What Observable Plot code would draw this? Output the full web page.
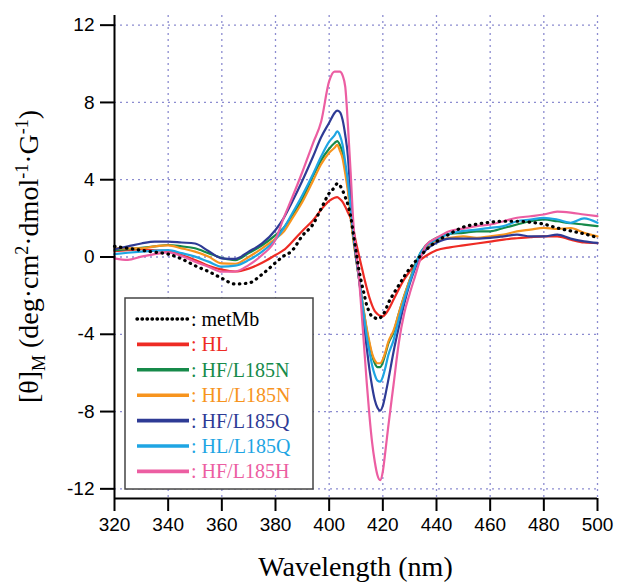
<!DOCTYPE html>
<html><head><meta charset="utf-8">
<script src="https://cdn.jsdelivr.net/npm/d3@7"></script>
<script src="https://cdn.jsdelivr.net/npm/@observablehq/plot@0.6"></script>
<style>body{margin:0;background:#fff} #chart{width:619px;height:582px}</style>
</head><body><div id="chart"></div>
<script>
const wavelengths = [320,325,330,335,340,345,350,355,360,365,370,375,380,383,386,390,394,397,400,402,403,404,405,406,407,408,409,410,411,412,413,414,415,416,417,418,419,420,421,422,424,426,428,430,432,434,436,440,445,450,455,460,465,470,475,480,485,490,495,500];
const metMb = [0.55,0.45,0.35,0.25,0.15,-0.1,-0.45,-0.75,-1.1,-1.4,-1.35,-0.9,-0.3,0.05,0.3,1.1,1.7,2.5,3.3,3.6,3.8,3.7,3.45,3.1,2.7,2.1,1.2,0.3,-0.6,-1.3,-1.9,-2.5,-2.85,-3.1,-3.15,-3.2,-3.15,-3.0,-2.75,-2.4,-1.9,-1.45,-1.0,-0.6,-0.25,0.05,0.35,0.8,1.2,1.55,1.7,1.8,1.85,1.85,1.8,1.7,1.5,1.35,1.2,1.0];
const HL = [0.3,0.35,0.4,0.35,0.3,0.1,-0.15,-0.45,-0.65,-0.75,-0.6,-0.3,0.1,0.35,0.75,1.35,1.9,2.45,2.9,3.07,3.1,3.0,2.85,2.6,2.3,2.0,1.45,0.75,0.15,-0.45,-1.05,-1.6,-2.1,-2.5,-2.8,-2.95,-3.05,-3.07,-2.95,-2.75,-2.2,-1.65,-1.15,-0.75,-0.4,-0.15,0.05,0.35,0.5,0.6,0.7,0.8,0.9,0.97,1.03,1.07,1.07,0.9,0.75,0.72];
const HF_L185N = [0.35,0.4,0.48,0.55,0.62,0.55,0.45,0.2,-0.05,-0.16,0.2,0.6,1.13,1.5,2.1,3.0,4.2,5.0,5.6,5.9,6.0,5.8,5.4,4.6,3.6,2.3,1.0,0.0,-1.0,-2.0,-2.9,-3.8,-4.5,-5.1,-5.5,-5.7,-5.7,-5.45,-5.0,-4.5,-3.9,-2.9,-2.0,-1.2,-0.4,0.2,0.6,0.99,1.2,1.25,1.33,1.33,1.5,1.68,1.85,1.94,1.85,1.75,1.68,1.6];
const HL_L185N = [0.45,0.45,0.45,0.55,0.6,0.45,0.28,0.02,-0.33,-0.35,0.0,0.45,0.95,1.3,1.95,2.85,3.95,4.8,5.4,5.65,5.8,5.5,5.1,4.3,3.4,2.1,0.9,-0.1,-1.0,-2.0,-2.9,-3.7,-4.4,-5.0,-5.35,-5.5,-5.5,-5.3,-4.9,-4.4,-3.8,-2.9,-2.0,-1.2,-0.5,0.1,0.5,0.81,0.99,1.07,0.99,1.07,1.16,1.33,1.42,1.51,1.45,1.5,1.25,1.07];
const HF_L185Q = [0.4,0.55,0.7,0.8,0.8,0.75,0.7,0.31,-0.07,-0.1,0.28,0.7,1.4,2.0,2.8,3.95,5.2,6.2,6.95,7.45,7.58,7.5,7.1,6.3,5.2,3.1,1.3,0.0,-1.0,-2.2,-3.5,-4.7,-5.8,-6.7,-7.4,-7.8,-7.95,-7.7,-7.1,-6.4,-4.9,-3.6,-2.4,-1.4,-0.6,0.0,0.35,0.73,0.95,0.95,0.95,0.99,1.07,1.16,1.07,1.07,1.16,0.95,0.81,0.73];
const HL_L185Q = [0.15,0.22,0.28,0.33,0.36,0.2,0.02,-0.24,-0.5,-0.45,-0.16,0.28,0.9,1.48,2.2,3.2,4.3,5.2,5.97,6.3,6.5,6.3,5.8,4.9,3.9,2.5,1.2,0.1,-0.9,-2.0,-3.1,-4.1,-4.9,-5.6,-6.1,-6.4,-6.45,-6.2,-5.7,-5.1,-4.3,-3.2,-2.2,-1.3,-0.5,0.2,0.55,0.9,1.2,1.35,1.42,1.51,1.6,1.85,1.94,2.03,1.94,1.77,2.0,1.77];
const HF_L185H = [-0.07,-0.15,0.02,0.15,0.24,0.05,-0.24,-0.5,-0.76,-0.75,-0.42,0.1,0.9,2.0,3.0,4.4,5.9,7.0,9.1,9.6,9.6,9.6,9.4,8.8,6.8,4.4,1.8,0.3,-0.9,-2.7,-4.6,-6.5,-8.2,-9.6,-10.6,-11.3,-11.55,-11.1,-10.0,-8.8,-6.6,-4.4,-2.9,-1.9,-1.0,-0.1,0.6,0.99,1.35,1.47,1.6,1.68,1.85,2.03,2.11,2.2,2.35,2.3,2.2,2.11];

const seriesNames = ["metMb","HL","HF/L185N","HL/L185N","HF/L185Q","HL/L185Q","HF/L185H"];
const seriesValues = [metMb, HL, HF_L185N, HL_L185N, HF_L185Q, HL_L185Q, HF_L185H];
const seriesColors = ["#000000","#ee2b24","#168a4a","#f7941e","#2e3b95","#1ea5e3","#ec5ea2"];
const xTicks = [320,340,360,380,400,420,440,460,480,500];
const yTicks = [-12,-8,-4,0,4,8,12];
const xDomain = [320,500];
const yDomain = [-12.5,12.5];
const xTitle = "Wavelength (nm)";

const rows = seriesNames.flatMap((name,i)=>wavelengths.map((w,j)=>({series:name, wl:w, v:seriesValues[i][j]})));
const gridStyle = {stroke:"#8c8cd0", strokeOpacity:1, strokeWidth:1.3, strokeDasharray:"2,4"};

const plot = Plot.plot({
  width:619, height:582,
  marginLeft:114, marginRight:22, marginTop:15, marginBottom:84,
  x:{domain:xDomain}, y:{domain:yDomain},
  color:{domain:seriesNames, range:seriesColors},
  style:{fontFamily:"'Liberation Sans', Arial, sans-serif", fontSize:"19px", color:"#000", background:"#fff"},
  marks:[
    Plot.gridX(xTicks.slice(1), gridStyle),
    Plot.gridY(yTicks, gridStyle),
    Plot.line(rows.filter(d=>d.series!=="metMb"), {x:"wl", y:"v", z:"series", stroke:"series", strokeWidth:2.2, curve:"monotone-x"}),
    Plot.line(rows.filter(d=>d.series==="metMb"), {x:"wl", y:"v", stroke:"series", strokeWidth:3.2, strokeDasharray:"0.5,5.5", strokeLinecap:"round", curve:"monotone-x"}),
    Plot.ruleX([xDomain[0]], {stroke:"#000", strokeWidth:2}),
    Plot.ruleY([yDomain[0]], {stroke:"#000", strokeWidth:2}),
    Plot.axisX(xTicks, {tickSize:13, tickPadding:6, strokeWidth:2, label:null, tickFormat:d=>String(d), fontSize:19}),
    Plot.axisY(yTicks, {tickSize:14, tickPadding:6, strokeWidth:2, label:null, tickFormat:d=>String(d), fontSize:19})
  ]
});
document.getElementById("chart").appendChild(plot);

const svg = d3.select(plot);
const xs = plot.scale("x"), ys = plot.scale("y");
const serif = "'Liberation Serif', 'Times New Roman', serif";
// x title
svg.append("text")
  .attr("x", (xs.apply(xDomain[0]) + xs.apply(xDomain[1]))/2).attr("y", 576)
  .attr("text-anchor","middle").attr("font-family",serif).attr("font-size",28).attr("fill","#000")
  .text(xTitle);
// y title with sub/superscripts
const yt = svg.append("text")
  .attr("transform", `translate(38,${(ys.apply(12)+ys.apply(-12))/2}) rotate(-90)`)
  .attr("text-anchor","middle").attr("font-family",serif).attr("font-size",28).attr("fill","#000");
const parts = [["[θ]",0],["M",1],[" (deg·cm",0],["2",-1],["·dmol",0],["-1",-1],["·G",0],["-1",-1],[")",0]];
let cur = 0;
for (const [t,s] of parts) {
  const target = s===1 ? 7 : s===-1 ? -10 : 0;
  const ts = yt.append("tspan").attr("dy", target-cur).text(t);
  if (s!==0) ts.attr("font-size",18);
  cur = target;
}
// legend
const lg = svg.append("g");
lg.append("rect").attr("x",125).attr("y",298).attr("width",188).attr("height",191)
  .attr("fill","#fff").attr("stroke","#444").attr("stroke-width",1.5);
seriesNames.forEach((name,i)=>{
  const y = 319 + i*25.4;
  const ln = lg.append("line").attr("x1",137).attr("x2",189).attr("y1",y).attr("y2",y)
    .attr("stroke",seriesColors[i]);
  if (name==="metMb") ln.attr("stroke-width",3.4).attr("stroke-dasharray","0.5,4.5").attr("stroke-linecap","round");
  else ln.attr("stroke-width",3.6);
  lg.append("text").attr("x",191).attr("y",y+7).attr("text-anchor","start").attr("font-family",serif).attr("font-size",20)
    .attr("fill",seriesColors[i]).text(": " + name);
});
</script></body></html>
